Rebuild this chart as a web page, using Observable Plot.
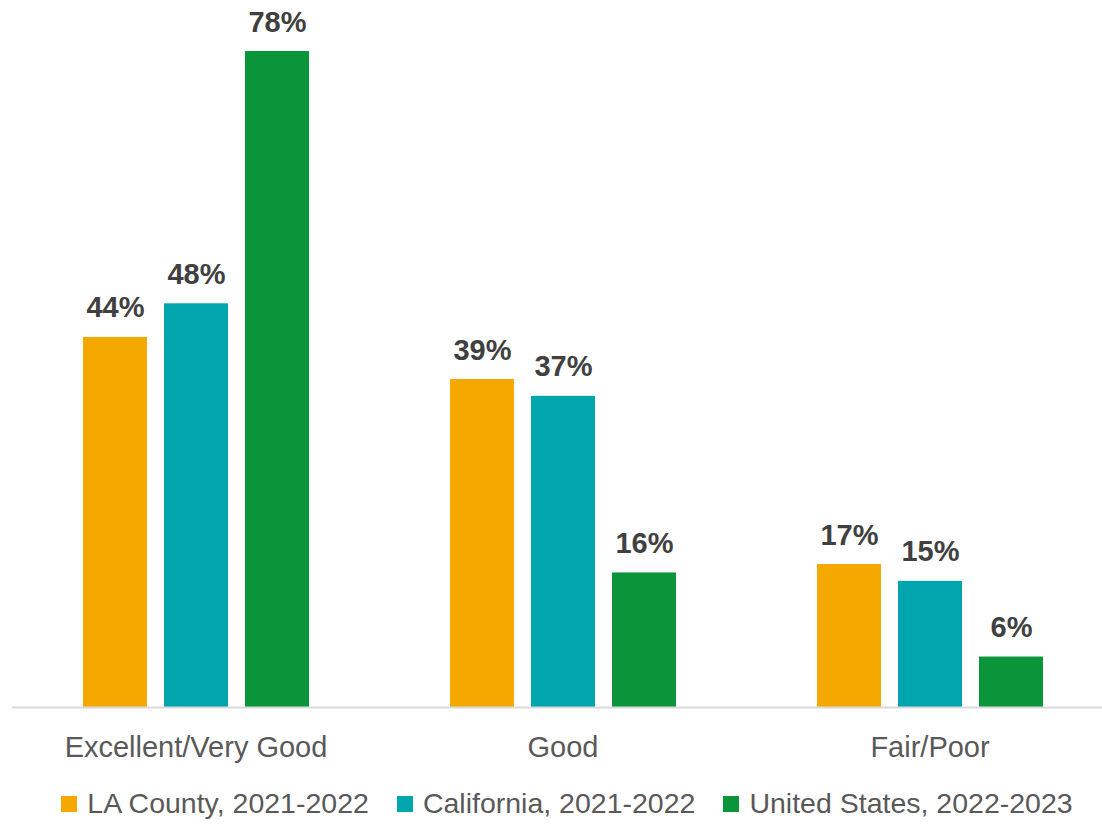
<!DOCTYPE html>
<html>
<head>
<meta charset="utf-8">
<script src="https://cdn.jsdelivr.net/npm/d3@7"></script>
<script src="https://cdn.jsdelivr.net/npm/@observablehq/plot@0.6"></script>
<style>
  html, body { margin: 0; padding: 0; background: #fff; }
  body { width: 1102px; height: 826px; overflow: hidden; font-family: "Liberation Sans", Arial, sans-serif; }
  #legend { display: flex; justify-content: center; gap: 28px; margin-top: 9px; padding-left: 32px; font-size: 28.5px; color: #595959; white-space: nowrap; }
  .item { display: flex; align-items: center; gap: 10px; }
  .sw { width: 16px; height: 16px; display: inline-block; }
</style>
</head>
<body>
<div id="chart"></div>
<div id="legend"></div>
<script>
const categories = ["Excellent/Very Good", "Good", "Fair/Poor"];
const series = ["LA County, 2021-2022", "California, 2021-2022", "United States, 2022-2023"];
const laCounty = [44, 39, 17];
const california = [48, 37, 15];
const unitedStates = [78, 16, 6];
const colors = ["#F5A800", "#00A5AE", "#0A953A"];

const seriesValues = [laCounty, california, unitedStates];
const data = categories.flatMap((c, i) =>
  series.map((s, j) => ({ category: c, series: s, value: seriesValues[j][i] }))
);

const chart = Plot.plot({
  width: 1102,
  height: 778,
  marginLeft: 11,
  marginRight: -12,
  marginTop: 51,
  marginBottom: 71,
  style: { fontFamily: "Liberation Sans, Arial, sans-serif", background: "#fff" },
  fx: { domain: categories, paddingInner: 0, paddingOuter: 0, label: null },
  x: { domain: series, paddingInner: 0.21, paddingOuter: 0.855, axis: null },
  y: { domain: [0, 78], axis: null },
  color: { domain: series, range: colors },
  marks: [
    Plot.barY(data, { fx: "category", x: "series", y: "value", fill: "series" }),
    Plot.ruleY([0], { stroke: "#d9d9d9", strokeWidth: 2 }),
    Plot.text(data, {
      fx: "category", x: "series", y: "value",
      text: d => d.value + "%",
      lineAnchor: "bottom", dy: -20,
      fontWeight: "bold", fontSize: 29, fill: "#404040"
    }),
    Plot.axisFx({ anchor: "bottom", tickSize: 0, tickPadding: 29, fontSize: 29, fill: "#595959", label: null })
  ]
});
document.getElementById("chart").appendChild(chart);

const legend = document.getElementById("legend");
series.forEach((s, i) => {
  const item = document.createElement("div");
  item.className = "item";
  const sw = document.createElement("span");
  sw.className = "sw";
  sw.style.background = colors[i];
  const t = document.createElement("span");
  t.textContent = s;
  item.appendChild(sw);
  item.appendChild(t);
  legend.appendChild(item);
});
</script>
</body>
</html>
